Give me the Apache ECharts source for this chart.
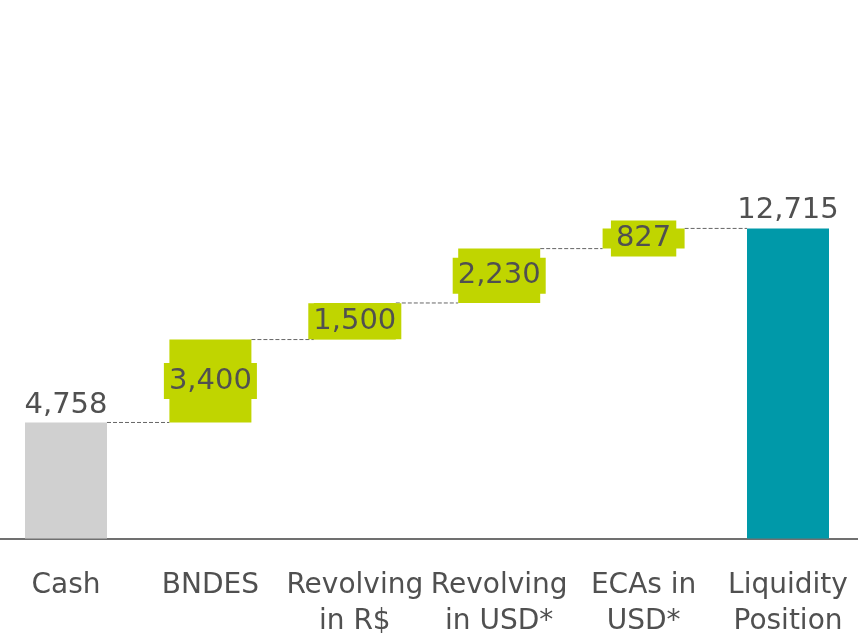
<!DOCTYPE html>
<html>
<head>
<meta charset="utf-8">
<script src="https://cdn.jsdelivr.net/npm/echarts@6/dist/echarts.min.js"></script>
<style>
  html, body { margin: 0; padding: 0; background: #ffffff; }
  #chart { width: 858px; height: 634px; }
</style>
</head>
<body>
<div id="chart"></div>
<script>
// Liquidity bridge (R$ million)
const categories = ['Cash', 'BNDES', 'Revolving\nin R$', 'Revolving\nin USD*', 'ECAs in\nUSD*', 'Liquidity\nPosition'];
const amounts = [4758, 3400, 1500, 2230, 827, 12715];
// 'start' = standalone bar from zero, 'step' = increment, 'total' = final sum
const kinds = ['start', 'step', 'step', 'step', 'step', 'total'];

const COLORS = { start: '#d0d0d0', step: '#c0d500', total: '#0099a9' };
const TEXT = '#505050';
const FONT = '"DejaVu Sans", Verdana, sans-serif';
const BAR_W = 82;

// invisible offsets so each step floats at the running total
const offsets = [];
const runningTotals = [];
let acc = 0;
amounts.forEach((v, i) => {
  if (kinds[i] === 'step') {
    offsets.push(acc);
    acc += v;
  } else if (kinds[i] === 'start') {
    offsets.push(0);
    acc = v;
  } else {
    offsets.push(0);
  }
  runningTotals.push(acc);
});

// connector segments: level after each bar, drawn from bar i to bar i+1
const connectors = runningTotals.slice(0, -1).map((t, i) => [i, t]);

const barData = amounts.map((v, i) => {
  const k = kinds[i];
  const item = { value: v, itemStyle: { color: COLORS[k] } };
  if (k === 'step') {
    item.label = {
      show: true,
      position: 'inside',
      backgroundColor: COLORS.step,
      padding: [4, 5, 3, 5],
      lineHeight: 29
    };
  } else {
    item.label = { show: true, position: 'top', distance: 3 };
  }
  return item;
});

const chart = echarts.init(document.getElementById('chart'), null, { renderer: 'canvas' });
chart.setOption({
  animation: false,
  backgroundColor: '#ffffff',
  grid: {
    left: -6.2, right: -2.2, top: 2, bottom: 95.5,
    containLabel: false,
    outerBoundsMode: 'none'
  },
  xAxis: {
    type: 'category',
    data: categories,
    axisTick: { show: false },
    axisLine: { show: true, lineStyle: { color: '#707070', width: 2 } },
    axisLabel: {
      interval: 0,
      margin: 29,
      color: TEXT,
      fontFamily: FONT,
      fontSize: 28,
      lineHeight: 36
    }
  },
  yAxis: {
    type: 'value',
    min: 0,
    max: 22000,
    show: false,
    splitLine: { show: false }
  },
  series: [
    {
      type: 'bar',
      stack: 'bridge',
      barWidth: BAR_W,
      silent: true,
      itemStyle: { color: 'transparent' },
      data: offsets
    },
    {
      type: 'bar',
      stack: 'bridge',
      barWidth: BAR_W,
      z: 3,
      label: {
        color: TEXT,
        fontFamily: FONT,
        fontSize: 29,
        formatter: p => p.value.toLocaleString('en-US')
      },
      data: barData
    },
    {
      type: 'custom',
      z: 2,
      silent: true,
      data: connectors,
      encode: { x: 0, y: 1 },
      renderItem: function (params, api) {
        const i = api.value(0);
        const level = api.value(1);
        const a = api.coord([i, level]);
        const b = api.coord([i + 1, level]);
        return {
          type: 'line',
          shape: { x1: a[0] + BAR_W / 2, y1: a[1], x2: b[0] - BAR_W / 2, y2: b[1] },
          style: { stroke: '#666666', lineWidth: 1, lineDash: [4, 2] }
        };
      }
    }
  ]
});
</script>
</body>
</html>
